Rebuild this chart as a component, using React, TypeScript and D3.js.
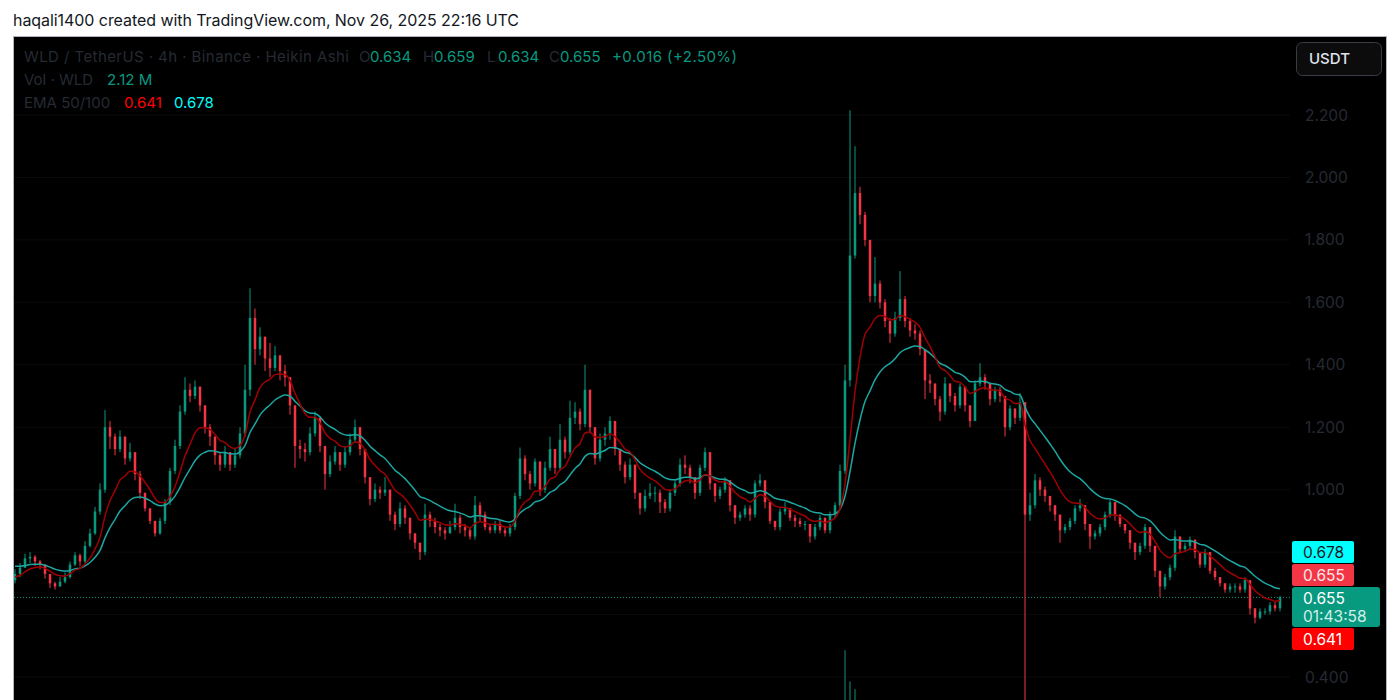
import React from "react";
import * as d3 from "d3";

// ---- Data (Heikin Ashi, one drawn bar ≈ 5.4 four-hour candles) ----
const closes = [
  // Apr–May
  0.73, 0.75, 0.78, 0.785, 0.77, 0.76, 0.73, 0.70, 0.69, 0.705,
  0.72, 0.76, 0.79, 0.77, 0.82, 0.86, 0.93, 1.00, 1.20, 1.17,
  1.13, 1.17, 1.10, 1.12, 1.05, 0.99, 0.94, 0.90, 0.86, 0.90,
  0.96, 1.06, 1.14, 1.25, 1.32, 1.30, 1.33, 1.27, 1.20, 1.17,
  1.11, 1.08, 1.12, 1.08,
  // May–Jun
  1.11, 1.18, 1.32, 1.55, 1.45, 1.49, 1.42, 1.39, 1.43, 1.38,
  1.36, 1.27, 1.14, 1.13, 1.12, 1.18, 1.23, 1.14, 1.05, 1.09,
  1.12, 1.08, 1.12, 1.16, 1.20, 1.13, 1.04, 0.97, 1.00, 0.99,
  1.00, 0.92, 0.89, 0.94, 0.91, 0.86, 0.83, 0.80, 0.92, 0.90,
  0.88, 0.87, 0.86,
  // Jun–Jul
  0.88, 0.91, 0.88, 0.87, 0.85, 0.95, 0.92, 0.88, 0.87, 0.89,
  0.87, 0.86, 0.88, 0.98, 1.10, 1.05, 1.02, 1.09, 1.00, 1.07,
  1.13, 1.07, 1.16, 1.12, 1.23, 1.25, 1.21, 1.32, 1.20, 1.10,
  1.16, 1.18, 1.22, 1.13, 1.08, 1.04, 1.08, 0.99, 0.94, 0.98,
  0.99, 0.99,
  // Aug–Sep
  0.96, 0.94, 0.99, 1.02, 1.08, 1.07, 1.04, 0.99, 1.07, 1.12,
  1.02, 0.98, 1.00, 1.03, 0.95, 0.91, 0.92, 0.94, 0.92, 1.02,
  1.03, 0.96, 0.90, 0.88, 0.93, 0.94, 0.91, 0.90, 0.89, 0.89,
  0.85, 0.88, 0.91, 0.87, 0.92, 0.95, 1.06, 1.35, 1.75, 1.95,
  1.88, 1.80, 1.62,
  // Sep–Oct
  1.66, 1.60, 1.54, 1.50, 1.55, 1.61, 1.54, 1.51, 1.50, 1.45,
  1.35, 1.34, 1.29, 1.25, 1.34, 1.30, 1.27, 1.33, 1.27, 1.22,
  1.34, 1.36, 1.34, 1.29, 1.32, 1.30, 1.20, 1.26, 1.23, 1.28,
  0.92, 0.95, 1.03, 1.00, 0.98, 0.95, 0.92, 0.87, 0.88, 0.90,
  0.94, 0.95, 0.89,
  // Oct–Nov
  0.85, 0.86, 0.88, 0.92, 0.96, 0.92, 0.89, 0.87, 0.83, 0.80,
  0.82, 0.88, 0.82, 0.74, 0.69, 0.72, 0.75, 0.85, 0.81, 0.82,
  0.84, 0.80, 0.76, 0.80, 0.74, 0.72, 0.70, 0.68, 0.69, 0.69,
  0.68, 0.71, 0.62, 0.59, 0.61, 0.61, 0.63, 0.62, 0.655,
];

const highs = [
  0.745, 0.765, 0.795, 0.80, 0.79, 0.775, 0.75, 0.73, 0.705, 0.72,
  0.735, 0.77, 0.80, 0.795, 0.835, 0.875, 0.945, 1.02, 1.255, 1.22,
  1.18, 1.19, 1.17, 1.15, 1.12, 1.06, 0.99, 0.94, 0.90, 0.91,
  0.97, 1.07, 1.16, 1.27, 1.36, 1.34, 1.35, 1.33, 1.27, 1.21,
  1.17, 1.12, 1.14, 1.12,
  1.13, 1.20, 1.40, 1.645, 1.58, 1.52, 1.49, 1.47, 1.46, 1.43,
  1.40, 1.36, 1.27, 1.16, 1.15, 1.20, 1.25, 1.23, 1.14, 1.11,
  1.14, 1.12, 1.14, 1.18, 1.225, 1.20, 1.13, 1.04, 1.02, 1.01,
  1.04, 1.00, 0.93, 0.96, 0.95, 0.91, 0.86, 0.83, 0.955, 0.93,
  0.91, 0.89, 0.88,
  0.90, 0.955, 0.92, 0.89, 0.88, 0.98, 0.96, 0.93, 0.89, 0.90,
  0.90, 0.88, 0.89, 0.99, 1.135, 1.11, 1.06, 1.10, 1.09, 1.09,
  1.17, 1.13, 1.21, 1.17, 1.285, 1.28, 1.26, 1.40, 1.32, 1.20,
  1.18, 1.20, 1.235, 1.22, 1.13, 1.09, 1.10, 1.08, 0.99, 1.00,
  1.02, 1.01,
  1.00, 0.97, 1.00, 1.03, 1.10, 1.11, 1.08, 1.04, 1.08, 1.135,
  1.12, 1.02, 1.01, 1.04, 1.03, 0.95, 0.93, 0.95, 0.95, 1.03,
  1.05, 1.03, 0.96, 0.90, 0.94, 0.96, 0.94, 0.92, 0.91, 0.90,
  0.89, 0.89, 0.92, 0.91, 0.93, 0.96, 1.08, 1.40, 2.215, 2.10,
  1.97, 1.89, 1.80,
  1.745, 1.67, 1.61, 1.55, 1.57, 1.70, 1.62, 1.55, 1.53, 1.51,
  1.45, 1.37, 1.34, 1.30, 1.36, 1.34, 1.31, 1.34, 1.33, 1.27,
  1.35, 1.405, 1.37, 1.34, 1.33, 1.33, 1.30, 1.27, 1.26, 1.31,
  1.28, 0.99, 1.05, 1.04, 1.01, 0.98, 0.95, 0.92, 0.89, 0.91,
  0.95, 0.97, 0.95,
  0.89, 0.87, 0.89, 0.93, 0.97, 0.96, 0.92, 0.89, 0.87, 0.83,
  0.83, 0.89, 0.88, 0.82, 0.74, 0.73, 0.76, 0.87, 0.85, 0.83,
  0.85, 0.84, 0.80, 0.81, 0.80, 0.75, 0.72, 0.70, 0.70, 0.70,
  0.70, 0.72, 0.71, 0.62, 0.62, 0.62, 0.64, 0.64, 0.66,
];

const lows = [
  0.70, 0.72, 0.75, 0.765, 0.755, 0.745, 0.715, 0.685, 0.68, 0.69,
  0.70, 0.715, 0.755, 0.755, 0.765, 0.815, 0.855, 0.92, 0.99, 1.13,
  1.11, 1.12, 1.08, 1.09, 1.03, 0.97, 0.93, 0.89, 0.85, 0.855,
  0.89, 0.95, 1.05, 1.13, 1.24, 1.28, 1.29, 1.25, 1.18, 1.14,
  1.08, 1.06, 1.07, 1.06,
  1.07, 1.10, 1.17, 1.30, 1.40, 1.43, 1.38, 1.36, 1.38, 1.35,
  1.33, 1.24, 1.07, 1.10, 1.09, 1.11, 1.17, 1.12, 1.00, 1.04,
  1.08, 1.06, 1.07, 1.11, 1.15, 1.11, 1.02, 0.95, 0.96, 0.97,
  0.98, 0.90, 0.87, 0.88, 0.89, 0.84, 0.81, 0.775, 0.79, 0.88,
  0.86, 0.85, 0.84,
  0.86, 0.87, 0.86, 0.85, 0.84, 0.84, 0.90, 0.87, 0.86, 0.86,
  0.86, 0.85, 0.85, 0.87, 0.97, 1.03, 1.00, 1.01, 0.98, 0.99,
  1.06, 1.05, 1.06, 1.10, 1.11, 1.21, 1.19, 1.20, 1.18, 1.08,
  1.09, 1.14, 1.16, 1.11, 1.06, 1.02, 1.03, 0.97, 0.92, 0.93,
  0.97, 0.96,
  0.925, 0.925, 0.93, 0.98, 1.01, 1.05, 1.02, 0.97, 0.98, 1.06,
  1.00, 0.96, 0.97, 0.99, 0.93, 0.89, 0.90, 0.91, 0.90, 0.91,
  1.01, 0.94, 0.89, 0.87, 0.87, 0.92, 0.90, 0.88, 0.88, 0.87,
  0.83, 0.84, 0.87, 0.86, 0.86, 0.91, 0.94, 1.05, 1.33, 1.74,
  1.85, 1.78, 1.60,
  1.60, 1.58, 1.52, 1.47, 1.49, 1.54, 1.52, 1.49, 1.48, 1.43,
  1.29, 1.31, 1.27, 1.22, 1.24, 1.28, 1.25, 1.26, 1.25, 1.20,
  1.22, 1.33, 1.32, 1.27, 1.28, 1.28, 1.17, 1.19, 1.21, 1.22,
  0.20, 0.90, 0.94, 0.98, 0.96, 0.93, 0.90, 0.83, 0.86, 0.87,
  0.89, 0.93, 0.87,
  0.81, 0.84, 0.85, 0.87, 0.91, 0.90, 0.88, 0.86, 0.81, 0.775,
  0.79, 0.81, 0.80, 0.72, 0.655, 0.68, 0.71, 0.74, 0.80, 0.80,
  0.81, 0.78, 0.75, 0.75, 0.73, 0.71, 0.69, 0.67, 0.67, 0.67,
  0.67, 0.67, 0.60, 0.572, 0.585, 0.60, 0.60, 0.61, 0.61,
];

const firstOpen = 0.71;
const emaPeriods = [50, 100];
const emaStarts = [0.72, 0.755];
const candlesPerBar = 5 / 0.93; // 4h candles represented by each drawn bar

const volumeIndex = [166, 167, 168];
const volumeValues = [366, 262, 236]; // M WLD

const yTickValues = [0.4, 0.6, 0.8, 1.0, 1.2, 1.4, 1.6, 1.8, 2.0, 2.2];

const titleText = "haqali1400 created with TradingView.com, Nov 26, 2025 22:16 UTC";
const symbolText = "WLD / TetherUS · 4h · Binance · Heikin Ashi";
const ohlcLabels = ["O", "H", "L", "C"];
const ohlcValues = ["0.634", "0.659", "0.634", "0.655"];
const changeText = "+0.016 (+2.50%)";
const volLabel = "Vol · WLD";
const volValue = "2.12 M";
const emaLabel = "EMA 50/100";
const emaValues = ["0.641", "0.678"];
const badgeValues = { emaSlow: "0.678", haClose: "0.655", last: "0.655", countdown: "01:43:58", emaFast: "0.641" };

const UP = "#089981";
const DOWN = "#f23645";
const FONT = "Inter, 'Noto Sans', sans-serif";

export default function App() {
  const W = 1400, H = 700;
  const plotLeft = 14, plotRight = 1290;
  const n = closes.length;
  const x = d3.scaleLinear().domain([0, n - 1]).range([15, 1280]);
  const y = d3.scaleLinear().domain([0.4, 2.2]).range([677, 115]);
  const vy = d3.scaleLinear().domain([0, 400]).range([760, 640]);

  const opens: number[] = [];
  closes.forEach((c, i) => opens.push(i === 0 ? firstOpen : closes[i - 1]));

  const emas = emaPeriods.map((p, k) => {
    const a = 2 / (p / candlesPerBar + 1);
    const out: number[] = [];
    closes.forEach((c, i) => {
      out.push(i === 0 ? emaStarts[k] : a * c + (1 - a) * out[i - 1]);
    });
    return out;
  });
  const line = d3
    .line<number>()
    .x((_, i) => x(i))
    .y((d) => y(d))
    .curve(d3.curveMonotoneX);

  const lastPrice = closes[n - 1];
  const bw = 2.5;

  const dim = "#262a33";
  // price-scale labels hidden behind the badges (0.800 and 0.600) are not shown
  const visibleTicks = yTickValues.filter((t) => y(t) < 535 || y(t) > 660);

  return (
    <div style={{ position: "absolute", left: 0, top: 0 }}>
      <svg width={W} height={H} style={{ display: "block", fontFamily: FONT }}>
        <rect x={0} y={0} width={W} height={H} fill="#ffffff" />
        <text x={13} y={26} fontSize={16} fill="#131722" textLength={506} lengthAdjust="spacing">{titleText}</text>
        <rect x={13.5} y={36.5} width={1373} height={700} fill="#000000" stroke="#b2b5be" strokeWidth={1} />
        <defs>
          <clipPath id="plot">
            <rect x={plotLeft} y={37} width={plotRight - plotLeft} height={H - 37} />
          </clipPath>
        </defs>

        {/* grid */}
        {yTickValues.map((t) => (
          <line key={t} x1={plotLeft} x2={plotRight} y1={y(t)} y2={y(t)} stroke="#0a0a0a" strokeWidth={1} />
        ))}

        <g clipPath="url(#plot)">
          {/* volume */}
          {volumeIndex.map((vi, k) => (
            <rect key={vi} x={x(vi) - 1} y={vy(volumeValues[k])} width={2} height={H - vy(volumeValues[k])} fill="#0d5a4e" opacity={0.8} />
          ))}
          {/* last price dotted */}
          <line x1={plotLeft} x2={plotRight} y1={y(lastPrice)} y2={y(lastPrice)} stroke={UP} strokeWidth={1} strokeDasharray="1 2" />
          {/* candles */}
          {closes.map((c, i) => {
            const o = opens[i];
            const hi = Math.max(highs[i], o, c);
            const lo = Math.min(lows[i], o, c);
            const col = c >= o ? UP : DOWN;
            const top = y(Math.max(o, c));
            const bot = y(Math.min(o, c));
            return (
              <g key={i}>
                <line x1={x(i)} x2={x(i)} y1={y(hi)} y2={y(lo)} stroke={col} strokeWidth={1} />
                <rect x={x(i) - bw / 2} y={top} width={bw} height={Math.max(1, bot - top)} fill={col} />
              </g>
            );
          })}
          {/* EMAs */}
          <path d={line(emas[1]) || ""} fill="none" stroke="#1ca7a2" strokeWidth={1.5} />
          <path d={line(emas[0]) || ""} fill="none" stroke="#a00000" strokeWidth={1.5} />
        </g>

        {/* legend */}
        <g fontSize={15}>
          <text x={24} y={62} fill={dim} textLength={325} lengthAdjust="spacing">{symbolText}</text>
          {ohlcLabels.map((l, i) => {
            const lx = [359, 423, 487, 549][i];
            return (
              <g key={l}>
                <text x={lx} y={62} fill={dim}>{l}</text>
                <text x={lx + 11} y={62} fill={UP}>{ohlcValues[i]}</text>
              </g>
            );
          })}
          <text x={612} y={62} fill={UP} textLength={125} lengthAdjust="spacing">{changeText}</text>
          <text x={24} y={85} fill={dim}>{volLabel}</text>
          <text x={107} y={85} fill={UP}>{volValue}</text>
          <text x={24} y={108} fill={dim}>{emaLabel}</text>
          <text x={124} y={108} fill="#ff0000">{emaValues[0]}</text>
          <text x={174} y={108} fill="#00ffff">{emaValues[1]}</text>
        </g>

        {/* y axis labels */}
        <g fontSize={15.5}>
          {visibleTicks.map((t) => (
            <text key={t} x={1305} y={y(t) + 5.5} fill={dim}>{d3.format(".3f")(t)}</text>
          ))}
        </g>

        {/* currency button */}
        <rect x={1296.5} y={42.5} width={85} height={33} rx={6} fill="#0c0c0c" stroke="#3a3d45" />
        <text x={1309} y={64} fontSize={15} fontWeight={500} fill="#e0e3eb">USDT</text>

        {/* price badges */}
        <g fontSize={15.5}>
          <rect x={1292} y={541} width={62} height={22} rx={2} fill="#00ffff" />
          <text x={1303} y={557.5} fill="#131722">{badgeValues.emaSlow}</text>
          <rect x={1292} y={564} width={62} height={22} rx={2} fill="#f23645" />
          <text x={1303} y={580.5} fill="#ffe9ec">{badgeValues.haClose}</text>
          <rect x={1292} y={587} width={88} height={40} rx={3} fill={UP} />
          <text x={1303} y={603.5} fill="#ffffff">{badgeValues.last}</text>
          <text x={1303} y={622} fill="#d3efe9">{badgeValues.countdown}</text>
          <rect x={1292} y={628} width={62} height={22} rx={2} fill="#ff0000" />
          <text x={1303} y={644.5} fill="#ffffff">{badgeValues.emaFast}</text>
        </g>
      </svg>
    </div>
  );
}
